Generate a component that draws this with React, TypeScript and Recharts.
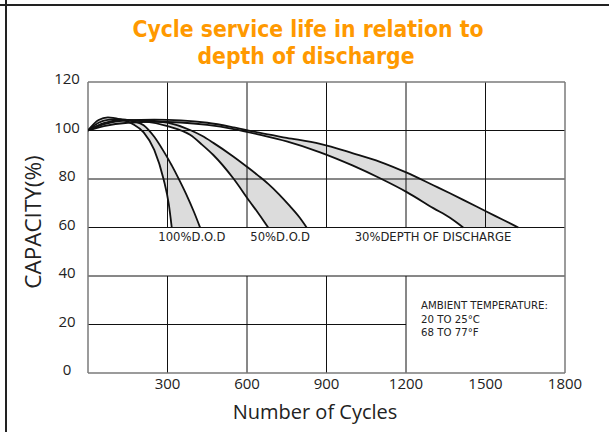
import React from "react";
import {
  ComposedChart,
  Area,
  Line,
  Scatter,
  XAxis,
  YAxis,
  ReferenceLine,
} from "recharts";

// axis ticks
const yTicks = [0, 20, 40, 60, 80, 100, 120];
const xTicks = [300, 600, 900, 1200, 1500, 1800];

// 100% D.O.D band (inner = curve that drops first, outer = curve that lasts longer)
const dod100Cycles = [0, 40, 75, 120, 170, 210, 250, 285, 305, 316, 340, 370, 400, 423];
const dod100Inner = [100, 104.3, 105.4, 104.6, 102.6, 99.2, 92.0, 80.0, 69.5, 60, null, null, null, null];
const dod100Outer = [100, 103.2, 104.4, 104.7, 103.8, 102.2, 97.4, 91.5, 87.8, 85.6, 80.6, 73.9, 66.4, 60];

// 50% D.O.D band
const dod50Cycles = [0, 60, 130, 200, 300, 385, 430, 473, 548, 611, 640, 680, 720, 762, 800, 825];
const dod50Inner = [100, 103, 104.4, 104, 101.8, 98.2, 94.2, 89.9, 80.3, 70.6, 66.3, 60, null, null, null, null];
const dod50Outer = [100, 102.8, 104.2, 104.3, 103.2, 100.2, 97.8, 94.9, 89.3, 84.1, 81.6, 78.0, 73.8, 68.8, 63.9, 60];

// 30% depth of discharge band
const dod30Cycles = [0, 60, 150, 250, 350, 450, 550, 650, 750, 876, 1000, 1102, 1203, 1303, 1366, 1416, 1505, 1560, 1624];
const dod30Inner = [100, 101.8, 103.2, 103.6, 103.3, 102.3, 100.6, 98.2, 95.5, 91.0, 85.5, 80.3, 74.6, 68.0, 64.0, 60, null, null, null];
const dod30Outer = [100, 102.6, 104.2, 104.5, 104.2, 103.2, 101.3, 99.0, 97.0, 94.5, 90.6, 87.1, 82.6, 77.4, 74.1, 71.4, 66.5, 63.5, 60];

// text placed in the plot (data coordinates)
const bandLabels = [
  { x: 392, y: 56, text: "100%D.O.D" },
  { x: 725, y: 56, text: "50%D.O.D" },
  { x: 1302, y: 56, text: "30%DEPTH OF DISCHARGE" },
];
const noteLines = [
  { x: 1257, y: 28.0, text: "AMBIENT TEMPERATURE:" },
  { x: 1257, y: 22.3, text: "20 TO 25°C" },
  { x: 1257, y: 16.9, text: "68 TO 77°F" },
];

const FLOOR = 60;

const buildBand = (cycles: number[], inner: (number | null)[], outer: number[]) =>
  cycles.map((x, i) => ({
    x,
    inner: inner[i],
    outer: outer[i],
    range: [inner[i] ?? FLOOR, outer[i]],
  }));

const bands = [
  buildBand(dod100Cycles, dod100Inner, dod100Outer),
  buildBand(dod50Cycles, dod50Inner, dod50Outer),
  buildBand(dod30Cycles, dod30Inner, dod30Outer),
];

// grid pieces: the chart leaves gaps for the labels row and the note box
const gridSegments: [number, number, number, number][] = [
  [0, 100, 1800, 100],
  [0, 80, 1800, 80],
  [0, 60, 1800, 60],
  [0, 40, 1800, 40],
  [0, 20, 1200, 20],
  [300, 60, 300, 120],
  [600, 60, 600, 120],
  [900, 60, 900, 120],
  [1200, 60, 1200, 120],
  [1500, 60, 1500, 120],
  [300, 0, 300, 40],
  [600, 0, 600, 40],
  [900, 0, 900, 40],
  [1200, 0, 1200, 40],
];
const frameSegments: [number, number, number, number][] = [
  [0, 0, 0, 120],
  [0, 120, 1800, 120],
  [1800, 0, 1800, 120],
  [0, 0, 1800, 0],
];

const axisFont = "'Open Sans', 'DejaVu Sans', sans-serif";
const labelFont = "'DejaVu Sans', sans-serif";

const YTick = (props: any) => (
  <text
    x={67}
    y={props.y - 3}
    dy="0.36em"
    textAnchor="middle"
    fontFamily={axisFont}
    fontSize={15}
    fill="#222"
  >
    {props.payload.value}
  </text>
);

export default function App() {
  return (
    <div style={{ position: "absolute", left: 0, top: 0, width: 609, height: 432, background: "#fff" }}>
      <ComposedChart
        width={609}
        height={432}
        margin={{ top: 82, right: 44, bottom: 29, left: 28 }}
      >
        <XAxis
          type="number"
          dataKey="x"
          domain={[0, 1800]}
          ticks={xTicks}
          allowDataOverflow
          axisLine={false}
          tickLine={false}
          tickSize={0}
          tickMargin={5}
          height={30}
          tick={{ fontFamily: axisFont, fontSize: 15, fill: "#222" }}
        />
        <YAxis
          type="number"
          domain={[0, 120]}
          ticks={yTicks}
          allowDataOverflow
          axisLine={false}
          tickLine={false}
          width={60}
          tick={<YTick />}
        />
        {gridSegments.map(([x1, y1, x2, y2], i) => (
          <ReferenceLine
            key={"g" + i}
            segment={[{ x: x1, y: y1 }, { x: x2, y: y2 }]}
            stroke="#111"
            strokeWidth={1}
          />
        ))}
        {frameSegments.map(([x1, y1, x2, y2], i) => (
          <ReferenceLine
            key={"f" + i}
            segment={[{ x: x1, y: y1 }, { x: x2, y: y2 }]}
            stroke="#7a7a7a"
            strokeWidth={1.5}
          />
        ))}
        {bands.map((band, i) => (
          <Area
            key={"a" + i}
            data={band}
            dataKey="range"
            type="monotone"
            fill="#dcdcdc"
            fillOpacity={1}
            stroke="none"
            isAnimationActive={false}
          />
        ))}
        {bands.map((band, i) => (
          <Line
            key={"li" + i}
            data={band}
            dataKey="inner"
            type="monotone"
            stroke="#111"
            strokeWidth={1.8}
            dot={false}
            activeDot={false}
            isAnimationActive={false}
          />
        ))}
        {bands.map((band, i) => (
          <Line
            key={"lo" + i}
            data={band}
            dataKey="outer"
            type="monotone"
            stroke="#111"
            strokeWidth={1.8}
            dot={false}
            activeDot={false}
            isAnimationActive={false}
          />
        ))}
        <Scatter
          data={bandLabels}
          dataKey="y"
          isAnimationActive={false}
          shape={(p: any) => (
            <text
              x={p.cx}
              y={p.cy}
              dy="0.36em"
              textAnchor="middle"
              fontFamily={labelFont}
              fontSize={11.6}
              fill="#222"
            >
              {p.payload.text}
            </text>
          )}
        />
        <Scatter
          data={noteLines}
          dataKey="y"
          isAnimationActive={false}
          shape={(p: any) => (
            <text
              x={p.cx}
              y={p.cy}
              dy="0.36em"
              textAnchor="start"
              fontFamily={labelFont}
              fontSize={10.2}
              fill="#222"
            >
              {p.payload.text}
            </text>
          )}
        />
      </ComposedChart>
      <svg
        width={609}
        height={432}
        style={{ position: "absolute", left: 0, top: 0, pointerEvents: "none" }}
      >
        <line x1={0} y1={5} x2={609} y2={5} stroke="#222" strokeWidth={2} />
        <line x1={6} y1={0} x2={6} y2={432} stroke="#222" strokeWidth={2} />
        <g
          fontFamily="'Liberation Sans Narrow', 'DejaVu Sans Condensed', sans-serif"
          fontWeight="bold"
          fontSize={22.7}
          fill="#ff9900"
          textAnchor="middle"
        >
          <text x={308} y={37}>Cycle service life in relation to</text>
          <text x={306} y={64}>depth of discharge</text>
        </g>
        <text
          x={315}
          y={419}
          textAnchor="middle"
          fontFamily={axisFont}
          fontSize={20}
          fill="#222"
        >
          Number of Cycles
        </text>
        <text
          transform="translate(41,222) rotate(-90)"
          textAnchor="middle"
          fontFamily={axisFont}
          fontSize={22.5}
          fill="#222"
        >
          CAPACITY(%)
        </text>
      </svg>
    </div>
  );
}
